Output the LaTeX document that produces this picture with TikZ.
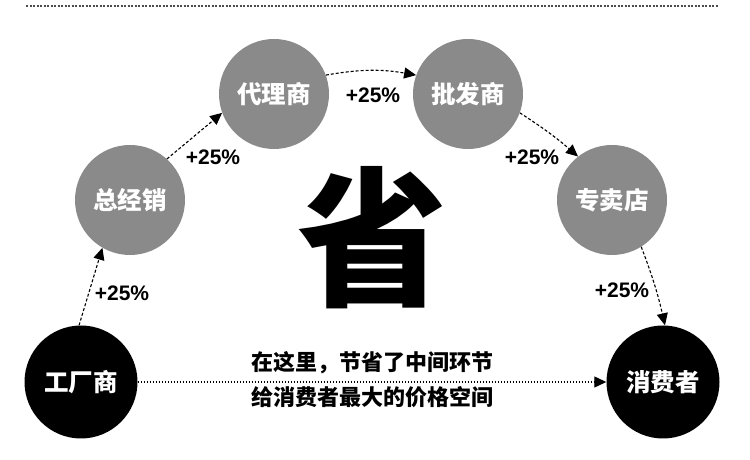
\documentclass[tikz,border=0pt]{standalone}
\usepackage{fontspec}
\setmainfont{Liberation Sans}
\newfontfamily\cjk{Noto Sans CJK SC}
\usetikzlibrary{arrows.meta}
\definecolor{circgray}{RGB}{138,138,138}
\tikzset{
  graycirc/.style={circle,fill=circgray,minimum size=110pt,inner sep=0pt,text=white,font=\cjk\bfseries\fontsize{24.5}{24.5}\selectfont},
  blackcirc/.style={circle,fill=black,minimum size=113pt,inner sep=0pt,text=white,font=\cjk\bfseries\fontsize{24.5}{24.5}\selectfont},
  flow/.style={line width=1.1pt,dash pattern=on 3pt off 2pt,-{Triangle[length=12pt,width=11pt]}},
  direct/.style={line width=1.2pt,dash pattern=on 1.5pt off 1.5pt,-{Triangle[length=12pt,width=11pt]}},
  pct/.style={font=\bfseries\fontsize{21}{21}\selectfont},
  caption/.style={font=\cjk\bfseries\fontsize{22}{22}\selectfont}
}
\begin{document}
\begin{tikzpicture}[x=1pt,y=1pt]
\useasboundingbox (0,0) rectangle (750,460);
\fill[white] (0,0) rectangle (750,460);
% top dotted rule
\coordinate (tl) at (26,454);
\coordinate (tr) at (718,454);
\draw[line width=2pt,dash pattern=on 2pt off 1.5pt,gray!60!black] (tl) -- (tr);
% nodes
\node[blackcirc] (gc) at (81,78) {工厂商};
\node[graycirc] (zj) at (130,260) {总经销};
\node[graycirc] (dl) at (274,366) {代理商};
\node[graycirc] (pf) at (468,366) {批发商};
\node[graycirc] (zm) at (612,260) {专卖店};
\node[blackcirc] (xf) at (663,78) {消费者};
% connectors
\draw[flow] (gc.92) -- (zj.240);
\draw[flow] (zj.48) -- (dl.200);
\draw[flow] (dl.20) to[bend left=10] (pf.160);
\draw[flow] (pf.340) to[bend left=4] (zm.128);
\draw[flow] (zm.302) to[bend left=4] (xf.88);
\draw[direct] (gc.east) -- (xf.west);
% labels
\node[pct] (p1) at (122,167) {+25\%};
\node[pct] (p2) at (213,303) {+25\%};
\node[pct] (p3) at (373,365) {+25\%};
\node[pct] (p4) at (532,303) {+25\%};
\node[pct] (p5) at (622,170) {+25\%};
% big character
\node[font=\cjk\bfseries\fontsize{150}{150}\selectfont,inner sep=0pt] (sheng) at (372,222) {省};
% caption
\node[caption] (c1) at (372,97) {在这里，节省了中间环节};
\node[caption] (c2) at (372,63) {给消费者最大的价格空间};
\end{tikzpicture}
\end{document}
